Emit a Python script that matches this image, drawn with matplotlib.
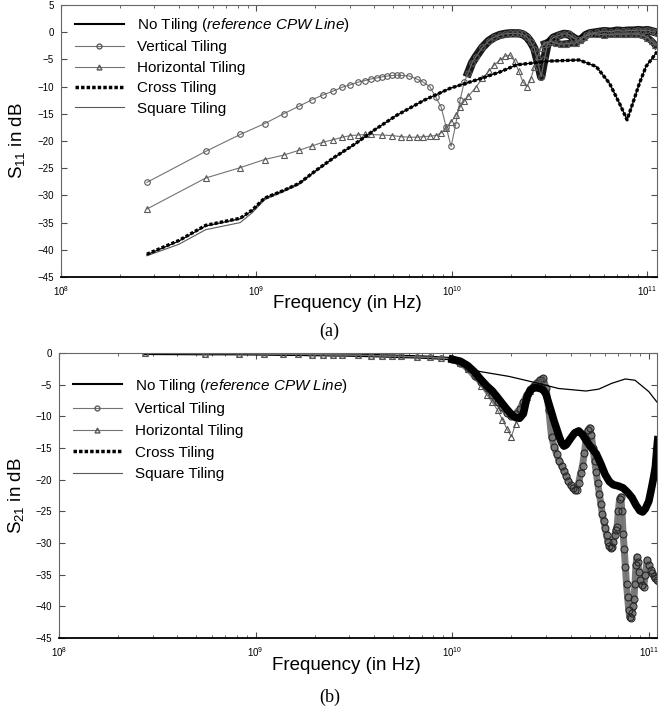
import numpy as np
import matplotlib
matplotlib.use('Agg')
import matplotlib.pyplot as plt
from matplotlib.lines import Line2D

plt.rcParams['font.family'] = ['Liberation Sans', 'DejaVu Sans']
plt.rcParams['mathtext.fontset'] = 'custom'
plt.rcParams['mathtext.rm'] = 'Liberation Sans'
plt.rcParams['mathtext.it'] = 'Liberation Sans:italic'
plt.rcParams['mathtext.default'] = 'regular'

#%% S11 data (frequency in GHz, value in dB)
f11_vert = [0.275, 0.55, 0.825, 1.1, 1.375, 1.65, 1.925, 2.2, 2.475, 2.75, 3.025, 3.3, 3.575, 3.85,
            4.125, 4.4, 4.675, 4.95, 5.225, 5.5, 6.05, 6.6, 7.15, 7.7, 8.25, 8.8, 9.35, 9.9, 10.45,
            11.0, 11.55, 12.1, 12.65, 13.2, 14.3, 15.4, 16.5, 17.6, 18.7, 19.8, 20.9, 22.0, 23.1,
            24.2, 25.3, 26.4, 27.5, 28.6, 29.7, 30.8, 33, 35.2, 37.4, 39.6, 41.8, 44, 46.2, 48.4,
            50.6, 55, 60, 65, 70, 75, 80, 85, 90, 95, 100, 105, 110]
s11_vert = [-27.6, -21.9, -18.8, -16.8, -15.0, -13.6, -12.4, -11.5, -10.8, -10.1, -9.65, -9.2, -8.9, -8.6,
            -8.4, -8.2, -8.05, -7.95, -7.9, -7.95, -8.05, -8.6, -9.2, -10.0, -11.9, -13.7, -17.5, -21.0, -17.0,
            -12.5, -9.2, -7.5, -5.7, -4.6, -2.8, -1.6, -0.9, -0.5, -0.3, -0.2, -0.2, -0.2, -0.4,
            -0.9, -1.8, -3.0, -5.5, -8.2, -5.0, -2.2, -1.0, -0.6, -0.3, -0.4, -1.0, -1.5, -1.2, -0.5,
            -0.2, 0.0, 0.2, 0.1, 0.3, 0.2, 0.3, 0.3, 0.4, 0.3, 0.4, 0.2, 0.0]

f11_horz = [0.275, 0.55, 0.825, 1.1, 1.375, 1.65, 1.925, 2.2, 2.475, 2.75, 3.025, 3.3, 3.575, 3.85,
            4.4, 4.95, 5.5, 6.05, 6.6, 7.15, 7.7, 8.25, 8.8, 9.35, 9.9, 10.45, 11.0, 11.55, 12.1,
            13.2, 14.3, 15.4, 16.5, 17.6, 18.7, 19.8, 20.9, 22.0, 23.1, 24.2, 25.3, 26.4, 27.5,
            28.6, 29.7, 31.9, 34.1, 36.3, 38.5, 40.7, 42.9, 45.1, 47.3, 50, 55, 60, 65, 70, 75,
            80, 85, 90, 95, 100, 105, 110]
s11_horz = [-32.5, -26.8, -24.9, -23.4, -22.6, -21.7, -20.9, -20.2, -19.75, -19.3, -19.0, -18.9, -18.8, -18.8,
            -18.9, -19.0, -19.2, -19.3, -19.3, -19.2, -19.1, -19.0, -18.5, -17.6, -16.5, -15.3, -13.8, -12.7, -11.8,
            -10.2, -8.5, -7.2, -6.0, -5.1, -4.4, -4.2, -5.3, -7.2, -9.2, -10.0, -8.6, -6.4, -4.4,
            -2.9, -2.1, -1.7, -2.0, -2.2, -2.1, -2.0, -2.0, -1.5, -0.8, -0.4, -0.3, -0.5, -0.4, -0.3, -0.4,
            -0.3, -0.3, -0.4, -0.6, -1.0, -1.6, -2.4]

f11_ref = [0.275, 0.4, 0.55, 0.825, 0.95, 1.1, 1.375, 1.65, 2.0, 2.5, 3.2, 4.0, 5.2, 7.2, 9.8, 14.1,
           17.6, 21.4, 31.6, 44.7, 54.7, 64, 72, 78.7, 84.1, 91, 98.4, 112]
s11_none = [-40.9, -38.4, -35.6, -34.3, -32.8, -30.5, -29.1, -27.8, -25.5, -23.0, -20.5, -18.0, -15.3,
            -12.5, -10.3, -8.5, -7.3, -6.0, -5.3, -5.1, -6.3, -9.4, -13.1, -16.1, -13.1, -9.4, -6.3, -3.6]
s11_cross = [-40.8, -38.3, -35.5, -34.2, -32.7, -30.5, -29.1, -27.8, -25.5, -23.0, -20.5, -18.0, -15.3,
             -12.5, -10.3, -8.5, -7.3, -6.0, -5.3, -5.1, -6.3, -9.4, -13.1, -16.1, -13.1, -9.4, -6.3, -3.6]
s11_square = [-41.1, -39.0, -36.3, -35.0, -33.2, -30.8, -29.3, -28.0, -25.6, -23.1, -20.6, -18.0, -15.3,
              -12.5, -10.3, -8.5, -7.3, -6.0, -5.3, -5.1, -6.3, -9.4, -13.1, -16.1, -13.1, -9.4, -6.3, -3.6]

#%% S21 data (frequency in GHz, value in dB)
f21_low = [0.275, 0.55, 0.825, 1.1, 1.375, 1.65, 1.925, 2.2, 2.475, 2.75, 3.3, 3.85, 4.4, 4.95,
           5.5, 6.6, 7.7, 8.8, 9.9]
s21_low = [-0.05, -0.1, -0.1, -0.15, -0.2, -0.2, -0.25, -0.25, -0.3, -0.3, -0.35, -0.4, -0.45, -0.5,
           -0.55, -0.6, -0.7, -0.8, -0.9]

f21_vert = [10, 11, 12, 13, 14, 15, 16, 17, 18, 19, 20, 21, 22, 23, 24, 25, 26, 27, 28, 29, 30, 31,
            32, 33, 34, 35, 36, 37, 38, 39, 40, 41, 42, 43, 44, 45, 46, 47, 48, 49, 50, 51, 52, 53,
            54, 55, 56, 57, 58, 59, 60, 61, 62, 63, 64, 65, 66, 67, 68, 69, 70, 71, 72, 73, 74, 75,
            76, 77, 78, 79, 80, 81, 82, 83, 84, 85, 86, 87, 88, 89, 90, 92, 94, 96, 98, 100, 102,
            104, 106, 108, 110]
s21_vert = [-1.0, -1.5, -2.4, -3.6, -4.5, -5.5, -6.6, -7.7, -8.6, -9.4, -10.0, -9.6, -8.9, -7.8, -6.6,
            -5.8, -5.2, -4.7, -4.2, -4.0, -5.5, -9.0, -13.2, -14.8, -16.0, -17.0, -17.8, -18.6, -19.4,
            -20.2, -20.9, -21.3, -21.6, -21.6, -20.5, -19.0, -17.8, -15.8, -13.6, -12.2, -11.8, -13.0,
            -15.0, -17.0, -18.8, -20.6, -22.2, -23.8, -25.4, -26.5, -27.6, -28.8, -29.8, -30.5, -30.8,
            -30.6, -29.8, -28.8, -28.0, -27.4, -25.0, -23.0, -22.7, -25.0, -28.5, -31.0, -33.8, -36.5,
            -38.5, -40.5, -41.7, -41.8, -41.0, -40.0, -38.8, -36.5, -33.5, -32.2, -33.0, -34.5, -35.8,
            -36.6, -37.0, -35.0, -32.7, -33.4, -34.3, -34.8, -35.2, -35.6, -35.9]

f21_horz = [10, 11, 12, 13, 14, 15, 16, 17, 18, 19, 20, 21, 22, 23, 24, 25, 26, 27, 28, 29]
s21_horz = [-0.9, -1.6, -2.5, -3.5, -5.2, -6.6, -7.8, -9.0, -10.5, -12.0, -13.2, -11.2, -9.5, -8.0,
            -6.9, -6.0, -5.2, -4.8, -4.4, -4.1]

f21_band = [10, 11, 12, 13, 14, 15, 16, 17, 18, 19, 20, 21, 22, 23, 24, 25, 26, 27, 28, 29, 30, 31,
            32, 33, 34, 35, 36, 37, 38, 40, 42, 44, 46, 48, 50, 52, 54, 57, 60, 63, 66, 70, 74, 78,
            82, 86, 90, 93, 96, 100, 103, 106, 108, 110, 111]
s21_none = [-1.0, -1.3, -2.0, -3.0, -4.2, -5.2, -6.0, -7.0, -8.0, -8.9, -9.7, -10.2, -10.3, -9.6, -7.0,
            -5.8, -5.5, -5.5, -5.6, -5.8, -6.5, -8.0, -9.4, -10.8, -12.0, -13.2, -14.2, -14.7, -14.5,
            -13.5, -12.6, -12.3, -12.9, -13.8, -14.6, -15.3, -15.9, -17.5, -19.2, -20.3, -20.8, -21.0,
            -21.3, -22.0, -22.8, -24.0, -24.9, -25.1, -24.6, -23.4, -21.5, -19.5, -18.0, -15.0, -13.7]
s21_cross = s21_none

f21_sq = [10, 12.2, 13.7, 19.5, 27.5, 34.7, 47.9, 55.7, 64.6, 75.9, 85.1, 100, 111]
s21_square = [-1.0, -2.4, -2.9, -3.7, -4.8, -5.6, -6.0, -5.7, -4.8, -4.1, -4.3, -6.1, -7.9]

labels = ['No Tiling ($\\mathit{reference\\ CPW\\ Line}$)', 'Vertical Tiling', 'Horizontal Tiling',
          'Cross Tiling', 'Square Tiling']

G = 1e9
gray = '0.45'


def style_axes(ax, ylab, xmax):
    ax.set_xscale('log')
    ax.set_xlim(1e8, xmax)
    ax.tick_params(which='both', direction='in', top=True, right=True, labelsize=7, pad=5,
                   color='0.3')
    ax.tick_params(which='major', length=4)
    ax.tick_params(which='minor', length=2.5)
    for s in ['left', 'top', 'right']:
        ax.spines[s].set_color('0.4')
    ax.spines['bottom'].set_linewidth(1.3)
    ax.set_xlabel('Frequency (in Hz)', fontsize=13.5, va='center')
    ax.xaxis.set_label_coords(0.48, -0.096)
    ax.set_ylabel(ylab, fontsize=13.5, va='center')
    ax.yaxis.set_label_coords(-0.072, 0.5)


def legend_handles():
    return [Line2D([], [], color='k', lw=1.5),
            Line2D([], [], color=gray, lw=0.8, marker='o', ms=3.5, mfc='none', mec='0.35'),
            Line2D([], [], color=gray, lw=0.8, marker='^', ms=3.5, mfc='none', mec='0.35'),
            Line2D([], [], color='k', lw=2.5, ls=(0, (1, 0.6))),
            Line2D([], [], color='0.35', lw=0.8)]


fig = plt.figure(figsize=(6.59, 7.09), dpi=100)

#%% (a) S11
ax1 = fig.add_axes([0.0926, 0.6093, 0.9044, 0.3836])
fv = np.array(f11_vert) * G
fh = np.array(f11_horz) * G
fr = np.array(f11_ref) * G
ax1.plot(fv[fv > 12e9], np.array(s11_vert)[fv > 12e9], color='k', lw=6, alpha=0.9)
ax1.plot(fh[fh > 29e9], np.array(s11_horz)[fh > 29e9], color='k', lw=5, alpha=0.85)
ax1.plot(fv, s11_vert, color=gray, lw=0.8, marker='o', ms=4, mfc='none', mec='0.35', mew=0.8)
ax1.plot(fh, s11_horz, color=gray, lw=0.8, marker='^', ms=4, mfc='none', mec='0.35', mew=0.8)
ax1.plot(fr, s11_square, color='0.35', lw=0.8)
ax1.plot(fr, s11_none, color='k', lw=0.9)
ax1.plot(fr, s11_cross, color='k', lw=2.4, ls=(0, (1, 0.6)))
ax1.set_ylim(-45, 5)
ax1.set_yticks(np.arange(-45, 6, 5))
style_axes(ax1, 'S$_{\\mathregular{11}}$ in dB', 1.12e11)
ax1.yaxis.set_label_coords(-0.074, 0.5)
ax1.legend(legend_handles(), labels, loc='upper left', bbox_to_anchor=(0.0, 1.01), frameon=False,
           fontsize=11, handlelength=3.2, handletextpad=0.9, labelspacing=0.42)
fig.text(0.5, 0.532, '(a)', ha='center', va='center', fontsize=13, family='Liberation Serif')

#%% (b) S21
ax2 = fig.add_axes([0.0895, 0.1001, 0.9074, 0.402])
fl = np.array(f21_low) * G
ax2.plot(fl, s21_low, color='k', lw=2.5)
ax2.plot(fl, s21_low, color=gray, lw=0.8, marker='o', ms=4, mfc='none', mec='0.35', mew=0.8)
ax2.plot(fl, s21_low, color=gray, lw=0.8, marker='^', ms=4, mfc='none', mec='0.35', mew=0.8)
ax2.plot(np.array(f21_vert) * G, s21_vert, color='0.3', lw=5, alpha=0.75)
ax2.plot(np.array(f21_vert) * G, s21_vert, color=gray, lw=0.8, marker='o', ms=5, mfc='none',
         mec='0.15', mew=0.8)
ax2.plot(np.array(f21_horz) * G, s21_horz, color=gray, lw=0.8, marker='^', ms=4.5, mfc='none',
         mec='0.3', mew=0.8)
ax2.plot(np.array(f21_band) * G, s21_none, color='k', lw=5.5)
ax2.plot(np.array(f21_band) * G, s21_cross, color='k', lw=2.4, ls=(0, (1, 0.6)))
ax2.plot(np.array(f21_sq) * G, s21_square, color='k', lw=0.9)
ax2.set_ylim(-45, 0)
ax2.set_yticks(np.arange(-45, 1, 5))
style_axes(ax2, 'S$_{\\mathregular{21}}$ in dB', 1.1e11)
ax2.legend(legend_handles(), labels, loc='upper left', bbox_to_anchor=(0.0, 0.965), frameon=False,
           fontsize=11, handlelength=3.2, handletextpad=0.9, labelspacing=0.5)
fig.text(0.5, 0.017, '(b)', ha='center', va='center', fontsize=13, family='Liberation Serif')

plt.savefig('out.png', dpi=100)
